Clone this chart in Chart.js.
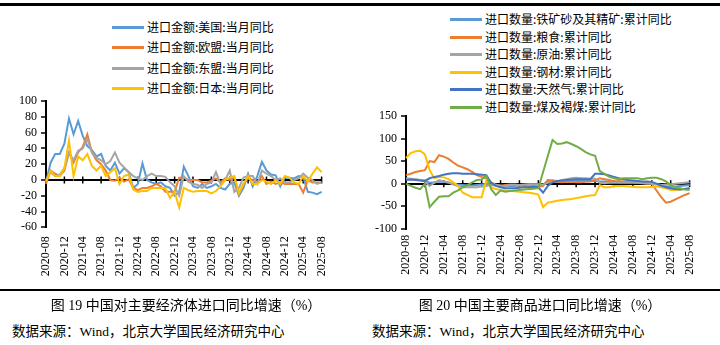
<!DOCTYPE html>
<html>
<head>
<meta charset="utf-8">
<script src="https://cdn.jsdelivr.net/npm/chart.js@4.4.1/dist/chart.umd.min.js"></script>
<style>
  html, body { margin: 0; padding: 0; background: #fff; }
  #page { position: relative; width: 720px; height: 345px; overflow: hidden; background: #fff; }
  .rule { position: absolute; left: 0; width: 720px; background: #000; }
  .box { position: absolute; }
  .legend { position: absolute; font-family: 'Noto Sans CJK SC', sans-serif; font-size: 12px; color: #000; }
  .legend .item { position: absolute; white-space: nowrap; height: 16px; line-height: 16px; }
  .legend .swatch { position: absolute; left: 0; top: 7px; width: 32px; height: 3px; }
  .legend .label { position: absolute; left: 35px; top: 0; }
  .caption { position: absolute; width: 360px; text-align: center; font-family: 'Liberation Serif', 'Noto Sans CJK SC', serif; font-size: 14px; color: #000; white-space: nowrap; }
  .source { position: absolute; font-family: 'Liberation Serif', 'Noto Sans CJK SC', serif; font-size: 13.5px; color: #000; white-space: nowrap; }
</style>
</head>
<body>
<div id="page">
  <div class="rule" style="top:3px;height:3px"></div>
  <div class="legend" id="legendLeft" style="left:112px;top:0"></div>
  <div class="legend" id="legendRight" style="left:450px;top:0"></div>
  <div class="box" style="left:0;top:90px"><canvas id="chartLeft" width="345" height="198"></canvas></div>
  <div class="box" style="left:360px;top:100px"><canvas id="chartRight" width="350" height="190"></canvas></div>
  <div class="rule" style="top:289px;height:2px"></div>
  <div class="caption" style="left:6px;top:294px">图 19 中国对主要经济体进口同比增速（%）</div>
  <div class="caption" style="left:360px;top:294px">图 20 中国主要商品进口同比增速（%）</div>
  <div class="source" style="left:12px;top:320px">数据来源：Wind，北京大学国民经济研究中心</div>
  <div class="source" style="left:372px;top:320px">数据来源：Wind，北京大学国民经济研究中心</div>
</div>
<script>
// months 2020-08 .. 2025-08
const months = []
for (let y = 2020, m = 8; y < 2025 || (y === 2025 && m <= 8); m++) {
  if (m > 12) { m = 1; y++ }
  months.push(y + '-' + String(m).padStart(2, '0'))
}

// Figure 19: import value by economy, monthly yoy (%)
const usImport = [-3, 22, 33, 33, 46, 78, 58, 75, 56, 43, 38, 30, 33, 18, 12, 22, 8, 15, 10, -10, -5, 21, 0, -3, -5, -3, -8, -10, -20, -15, 17, 5, -8, -10, -5, -10, -8, -5, -10, -12, -5, -3, -20, -10, 8, -8, 5, 23, 12, 7, 6, -8, 3, 3, 2, 5, 4, -15, -16, -18, -15]
const euImport = [-5, 12, 8, 5, 12, 35, 22, 35, 42, 58, 35, 25, 20, 12, 0, -1, 3, -2, 1, -10, -13, -10, -10, -8, -5, -8, -15, -15, -15, 3, 3, 0, 0, 0, -3, -3, -1, 2, -3, 2, 0, 3, -17, -5, 2, 0, -3, 5, -5, -2, -5, -3, -5, -5, -5, -5, -16, 0, -3, -3, -3]
const aseanImport = [0, 10, 5, 7, 15, 35, 25, 37, 40, 52, 35, 28, 25, 20, 24, 35, 22, 16, 10, 5, 2, 0, 5, 8, 5, 5, 4, -3, -8, -20, 5, -2, -5, -6, -10, -5, -3, 10, -5, 0, 12, -15, -10, 3, 5, 5, -5, 12, 8, 5, 0, 2, -3, -3, 0, 2, 8, 3, 0, -5, -3]
const japanImport = [-2, 12, 5, 5, 15, 50, 5, 30, 25, 33, 18, 12, 18, 5, 10, 15, -5, 5, 7, -12, -15, -14, -14, -10, -10, -10, -10, -23, -15, -35, -10, -13, -15, -14, -14, -14, -17, -14, -8, 0, 3, 5, -17, -5, 5, -5, -5, 0, -2, -5, 0, -5, 5, 3, -3, -5, 5, -2, 8, 16, 10]

// Figure 20: import volume by commodity, cumulative yoy (%)
const ironOre = [10, 10, 9, 8, 7, 2, 3, 5, 4, 2, 0, -2, -3, -4, -4, -3, -2, -1, -3, -4, -5, -5, -5, -5, -4, -3, -2, -2, -1, -2, 5, 7, 6, 6, 6, 6, 6, 6, 6, 6, 6, 5, 5, 4, 4, 3, 3, 3, 3, 2, 2, 2, 2, -1, -3, -5, -6, -6, -5, -4, -3]
const grain = [19, 22, 26, 28, 30, 50, 48, 63, 60, 55, 47, 40, 36, 32, 26, 19, 15, 12, 3, -2, -5, -3, -2, -3, -4, -5, -6, -5, -6, -5, 8, 7, 4, 3, 4, 4, 3, 3, 4, 5, 8, 12, 10, 8, 5, 6, 5, 5, 4, 4, 3, 3, 0, -15, -30, -42, -40, -35, -30, -25, -21]
const crudeOil = [12, 11, 10, 8, 5, -5, 2, 8, 5, 3, -2, -5, -8, -8, -8, -8, -6, -5, -2, -3, -4, -5, -3, -2, -3, -2, -1, -1, -2, -3, 2, 4, 5, 8, 10, 12, 13, 12, 12, 11, 11, 2, 1, 2, 2, 2, 2, 2, 2, 2, 1, 0, 0, -2, -3, -2, -1, 0, 1, 2, 3]
const steel = [57, 68, 72, 73, 65, 30, 12, 15, 14, 10, 3, -5, -20, -25, -30, -30, -30, 8, -8, -12, -14, -15, -16, -17, -18, -19, -20, -22, -24, -52, -42, -40, -38, -36, -35, -34, -32, -30, -28, -26, -25, -3, -8, -8, -5, -5, -5, -6, -7, -8, -8, -8, -7, -6, -8, -10, -14, -14, -13, -11, -10]
const naturalGas = [8, 9, 8, 7, 6, 12, 15, 17, 20, 22, 23, 23, 22, 22, 22, 21, 20, 19, 2, -5, -8, -10, -10, -10, -9, -8, -8, -7, -8, -20, -5, 3, 6, 7, 8, 9, 10, 10, 10, 10, 22, 22, 21, 18, 15, 12, 10, 8, 7, 6, 5, 5, 4, 0, -5, -8, -10, -12, -13, -12, -10]
const coal = [0, -5, -9, -12, 0, -52, -40, -29, -28, -28, -20, -15, -8, -3, 3, 8, 9, 18, -12, -25, -15, -18, -16, -15, -14, -13, -12, -11, -10, null, null, 97, 88, 89, 92, 88, 83, 77, 70, 65, 62, 28, 22, 15, 12, 10, 12, 12, 12, 12, 10, 12, 13, 13, 10, 5, -3, -8, -10, -13, -14]

const leftSeries = [
  { label: '进口金额:美国:当月同比', data: usImport, color: '#5B9BD5' },
  { label: '进口金额:欧盟:当月同比', data: euImport, color: '#ED7D31' },
  { label: '进口金额:东盟:当月同比', data: aseanImport, color: '#A5A5A5' },
  { label: '进口金额:日本:当月同比', data: japanImport, color: '#FFC000' }
]
const rightSeries = [
  { label: '进口数量:铁矿砂及其精矿:累计同比', data: ironOre, color: '#5B9BD5' },
  { label: '进口数量:粮食:累计同比', data: grain, color: '#ED7D31' },
  { label: '进口数量:原油:累计同比', data: crudeOil, color: '#A5A5A5' },
  { label: '进口数量:钢材:累计同比', data: steel, color: '#FFC000' },
  { label: '进口数量:天然气:累计同比', data: naturalGas, color: '#4472C4' },
  { label: '进口数量:煤及褐煤:累计同比', data: coal, color: '#70AD47' }
]

function buildLegend(el, series, firstY, step) {
  series.forEach((s, i) => {
    const item = document.createElement('div')
    item.className = 'item'
    item.style.top = Math.round(firstY + i * step - 8) + 'px'
    const sw = document.createElement('div')
    sw.className = 'swatch'
    sw.style.background = s.color
    const tx = document.createElement('span')
    tx.className = 'label'
    tx.textContent = s.label
    item.appendChild(sw)
    item.appendChild(tx)
    el.appendChild(item)
  })
}

// small cross marks on the zero line at every labelled month
const zeroTicks = {
  id: 'zeroTicks',
  beforeDatasetsDraw(chart) {
    const { ctx, scales: { x, y } } = chart
    const y0 = y.getPixelForValue(0)
    ctx.save()
    ctx.strokeStyle = '#000'
    ctx.lineWidth = 1.5
    months.forEach((m, i) => {
      if (i % 4 !== 0) return
      const px = x.getPixelForValue(i)
      ctx.beginPath()
      ctx.moveTo(px, y0 - 3.5)
      ctx.lineTo(px, y0 + 3.5)
      ctx.stroke()
    })
    ctx.restore()
  }
}

function makeChart(canvas, series, yMin, yMax, yStep, area) {
  const serif = { family: "'Liberation Serif', 'Times New Roman', serif", size: 12 }
  return new Chart(canvas.getContext('2d'), {
    type: 'line',
    data: {
      labels: months,
      datasets: series.map((s, i) => ({
        label: s.label,
        data: s.data,
        borderColor: s.color,
        backgroundColor: s.color,
        borderWidth: 2,
        pointRadius: 0,
        tension: 0,
        spanGaps: true,
        order: series.length - i
      }))
    },
    options: {
      responsive: false,
      animation: false,
      layout: { padding: { left: 0, top: area.top, right: area.right, bottom: 0 } },
      plugins: { legend: { display: false }, tooltip: { enabled: false } },
      scales: {
        x: {
          type: 'category',
          offset: false,
          grid: { display: false, drawTicks: false },
          border: { display: false },
          ticks: {
            autoSkip: false,
            minRotation: 90,
            maxRotation: 90,
            padding: area.labelGap,
            color: '#000',
            font: serif,
            callback: (v, i) => (i % 4 === 0 ? months[i] : '')
          },
          afterFit: scale => { scale.height = area.xHeight }
        },
        y: {
          min: yMin,
          max: yMax,
          ticks: { stepSize: yStep, autoSkip: false, color: '#000', font: serif, padding: 4 },
          grid: {
            color: c => (c.tick && c.tick.value === 0 ? '#000' : 'rgba(0,0,0,0)'),
            lineWidth: 2,
            tickColor: '#000',
            tickLength: 5,
            tickWidth: 1.5
          },
          border: { display: true, color: '#000', width: 2 },
          afterFit: scale => { scale.width = area.yWidth }
        }
      }
    },
    plugins: [zeroTicks]
  })
}

buildLegend(document.getElementById('legendLeft'), leftSeries, 26.7, 20.5)
buildLegend(document.getElementById('legendRight'), rightSeries, 19, 17.6)

makeChart(document.getElementById('chartLeft'), leftSeries, -60, 100, 20,
  { top: 9, right: 22, yWidth: 46, xHeight: 60.7, labelGap: 9 })
makeChart(document.getElementById('chartRight'), rightSeries, -100, 150, 50,
  { top: 16, right: 20, yWidth: 46, xHeight: 61.2, labelGap: 6 })
</script>
</body>
</html>
